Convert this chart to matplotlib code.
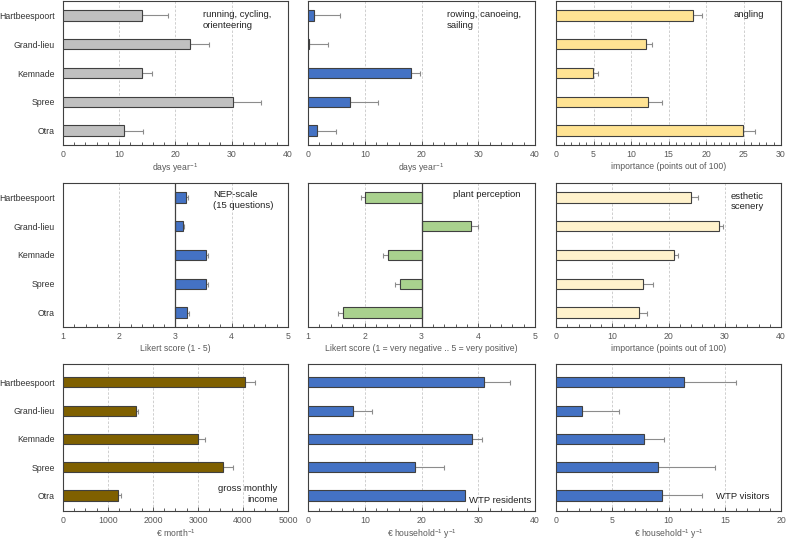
import matplotlib
matplotlib.use("Agg")
import matplotlib.pyplot as plt
from matplotlib.ticker import MultipleLocator

plt.rcParams['font.family'] = ['Liberation Sans', 'DejaVu Sans']
plt.rcParams['mathtext.fontset'] = 'custom'
plt.rcParams['mathtext.rm'] = 'Liberation Sans'

sites = ["Hartbeespoort", "Grand-lieu", "Kemnade", "Spree", "Otra"]

# values and one-sided error (extending away from the bar base)
running = [14.0, 22.6, 14.0, 30.2, 10.9]
running_err = [4.6, 3.3, 1.8, 5.0, 3.4]
rowing = [1.05, 0.2, 18.1, 7.4, 1.5]
rowing_err = [4.55, 3.4, 1.7, 5.0, 3.5]
angling = [18.2, 12.0, 4.9, 12.3, 24.9]
angling_err = [1.3, 0.8, 0.7, 1.8, 1.6]
nep = [3.19, 3.14, 3.55, 3.54, 3.21]
nep_err = [0.03, 0.02, 0.03, 0.04, 0.03]
plant = [2.00, 3.88, 2.41, 2.62, 1.61]
plant_err = [0.07, 0.11, 0.08, 0.09, 0.08]
scenery = [24.0, 29.0, 20.9, 15.4, 14.7]
scenery_err = [1.2, 0.7, 0.7, 1.8, 1.5]
income = [4049, 1622, 3009, 3562, 1224]
income_err = [228, 37, 155, 206, 59]
wtp_res = [31.05, 7.95, 28.9, 18.9, 27.6]
wtp_res_err = [4.55, 3.35, 1.7, 5.0, 0.0]
wtp_vis = [11.42, 2.28, 7.86, 9.11, 9.41]
wtp_vis_err = [4.58, 3.36, 1.75, 4.99, 3.53]

GRAY = "#c0c0c0"
BLUE = "#4472c4"
YELLOW = "#ffe393"
CREAM = "#fff2cc"
GREEN = "#a9d18e"
BROWN = "#7f6000"
EDGE = "#404040"
ERRC = "#8c8c8c"
TXT = "#595959"

fig = plt.figure(figsize=(7.86, 5.4), dpi=100)
W, H = 786, 540
cols = [(63, 288), (308, 535), (556, 781)]
rows = [(1, 145), (183, 327), (364, 511)]

def make_ax(r, c):
    x0, x1 = cols[c]
    y0, y1 = rows[r]
    return fig.add_axes([x0 / W, 1 - y1 / H, (x1 - x0) / W, (y1 - y0) / H])

def panel(r, c, vals, errs, color, xlim, major, minor, xlabel, text, tpos,
          ha='left', va='top', base=0.0, ylim=(4.5, -0.5)):
    ax = make_ax(r, c)
    y = list(range(len(sites)))
    widths = [v - base for v in vals]
    ax.barh(y, widths, left=base, height=0.36, color=color, edgecolor=EDGE,
            linewidth=0.8, zorder=3)
    lo = [e if v < base else 0 for v, e in zip(vals, errs)]
    hi = [e if v >= base else 0 for v, e in zip(vals, errs)]
    for yi, v, l, h in zip(y, vals, lo, hi):
        if l == 0 and h == 0:
            continue
        ax.errorbar([v], [yi], xerr=[[l], [h]], fmt='none', ecolor=ERRC,
                    elinewidth=0.8, capsize=1.8, capthick=0.8, zorder=2)
    ax.set_xlim(*xlim)
    ax.set_ylim(*ylim)
    ax.xaxis.set_major_locator(MultipleLocator(major))
    ax.xaxis.set_minor_locator(MultipleLocator(minor))
    for g in ax.get_xticks():
        if xlim[0] < g < xlim[1] and abs(g - base) > 1e-9:
            ax.axvline(g, color="#c8c8c8", lw=0.6, ls=(0, (3, 2)), zorder=1)
    if base != 0.0:
        ax.axvline(base, color="#404040", lw=0.9, zorder=4)
    ax.tick_params(axis='x', which='both', direction='in', colors="#404040",
                   labelcolor=TXT, labelsize=6.3, width=0.6, pad=3.5)
    ax.tick_params(axis='x', which='major', length=3)
    ax.tick_params(axis='x', which='minor', length=2)
    ax.set_yticks(y)
    if c == 0:
        ax.set_yticklabels(sites, fontsize=6.3, color="#333333")
    else:
        ax.set_yticklabels([])
    ax.tick_params(axis='y', length=0, pad=6)
    for s in ax.spines.values():
        s.set_color("#404040")
        s.set_linewidth(0.8)
    ax.set_xlabel(xlabel, fontsize=6.2, color=TXT, labelpad=2)
    ax.text(tpos[0], tpos[1], text, transform=ax.transAxes, ha=ha, va=va,
            fontsize=6.8, color="#222222", linespacing=1.25, zorder=5)
    return ax

panel(0, 0, running, running_err, GRAY, (0, 40), 10, 2,
      "days year$^{-1}$", "running, cycling,\norienteering", (0.622, 0.935))
panel(0, 1, rowing, rowing_err, BLUE, (0, 40), 10, 2,
      "days year$^{-1}$", "rowing, canoeing,\nsailing", (0.613, 0.935))
panel(0, 2, angling, angling_err, YELLOW, (0, 30), 5, 1,
      "importance (points out of 100)", "angling", (0.79, 0.935))
panel(1, 0, nep, nep_err, BLUE, (1, 5), 1, 0.2,
      "Likert score (1 - 5)", "NEP-scale\n(15 questions)", (0.667, 0.95), base=3.0)
panel(1, 1, plant, plant_err, GREEN, (1, 5), 1, 0.2,
      "Likert score (1 = very negative .. 5 = very positive)", "plant perception",
      (0.64, 0.95), base=3.0)
panel(1, 2, scenery, scenery_err, CREAM, (0, 40), 10, 2,
      "importance (points out of 100)", "esthetic\nscenery", (0.777, 0.94))
panel(2, 0, income, income_err, BROWN, (0, 5000), 1000, 250,
      "€ month$^{-1}$", "gross monthly\nincome", (0.954, 0.05), ha='right',
      va='bottom', ylim=(4.55, -0.65))
panel(2, 1, wtp_res, wtp_res_err, BLUE, (0, 40), 10, 2,
      "€ household$^{-1}$ y$^{-1}$", "WTP residents", (0.986, 0.04), ha='right',
      va='bottom', ylim=(4.55, -0.65))
panel(2, 2, wtp_vis, wtp_vis_err, BLUE, (0, 20), 5, 1,
      "€ household$^{-1}$ y$^{-1}$", "WTP visitors", (0.951, 0.07), ha='right',
      va='bottom', ylim=(4.55, -0.65))

fig.savefig("out.png", dpi=100)
